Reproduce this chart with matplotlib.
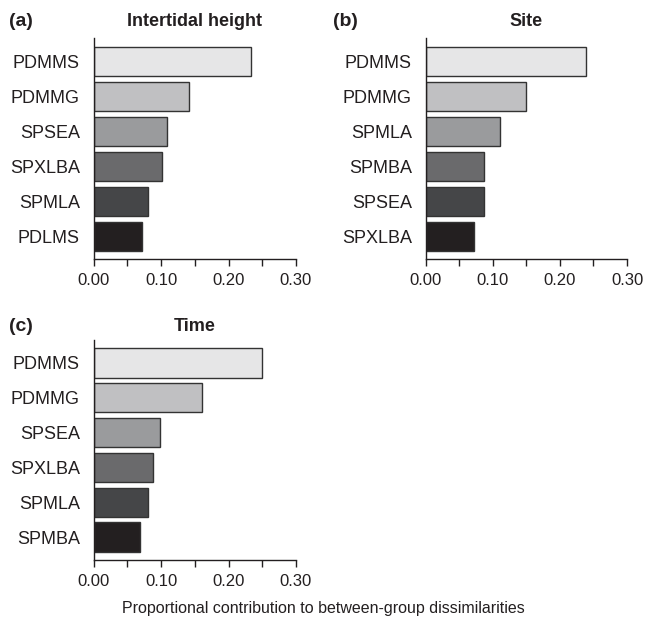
import matplotlib
matplotlib.use('Agg')
import matplotlib.pyplot as plt

# values (top bar first)
tidal_names = ['PDMMS', 'PDMMG', 'SPSEA', 'SPXLBA', 'SPMLA', 'PDLMS']
tidal_vals = [0.233, 0.142, 0.108, 0.101, 0.080, 0.072]

site_names = ['PDMMS', 'PDMMG', 'SPMLA', 'SPMBA', 'SPSEA', 'SPXLBA']
site_vals = [0.239, 0.149, 0.111, 0.087, 0.087, 0.072]

time_names = ['PDMMS', 'PDMMG', 'SPSEA', 'SPXLBA', 'SPMLA', 'SPMBA']
time_vals = [0.249, 0.160, 0.099, 0.088, 0.080, 0.069]

x_ticks = [0.00, 0.05, 0.10, 0.15, 0.20, 0.25, 0.30]
x_labels = ['0.00', '', '0.10', '', '0.20', '', '0.30']

grays = ['#e6e6e7', '#c0c0c2', '#9a9b9d', '#6a6a6c', '#454648', '#231f20']
ink = '#231f20'

plt.rcParams['font.family'] = ['Liberation Sans', 'DejaVu Sans']
plt.rcParams['text.color'] = ink

W, H = 648, 619
fig = plt.figure(figsize=(W / 100, H / 100), dpi=100)


def bar_panel(rect, names, vals, title, tag, title_pad):
    ax = fig.add_axes(rect)
    pos = list(range(len(names)))[::-1]
    ax.barh(pos, vals, height=0.84, color=grays, edgecolor='#333333', linewidth=1.0)
    ax.set_yticks(pos)
    ax.set_yticklabels(names, fontsize=13)
    ax.set_ylim(-0.657, len(names) - 1 + 0.657)
    ax.set_xlim(0, 0.30)
    ax.set_xticks(x_ticks)
    ax.set_xticklabels(x_labels, fontsize=12)
    ax.tick_params(axis='y', length=0, pad=10, colors=ink)
    ax.tick_params(axis='x', length=5.3, width=1.0, pad=4.5, colors=ink)
    for s in ['top', 'right']:
        ax.spines[s].set_visible(False)
    for s in ['left', 'bottom']:
        ax.spines[s].set_color(ink)
        ax.spines[s].set_linewidth(1.0)
    ax.set_title(title, fontsize=13, fontweight='bold', pad=title_pad)
    # panel letter sits on the title's baseline
    fig.text(tag[1] / W, 1 - tag[2] / H, tag[0], fontsize=14,
             fontweight='bold', va='baseline', ha='left')
    return ax


bar_panel([93.7 / W, 1 - 259.3 / H, 202.3 / W, 221 / H],
          tidal_names, tidal_vals, 'Intertidal height', ('(a)', 9, 26), 8.6)
bar_panel([425.7 / W, 1 - 259.3 / H, 201.3 / W, 221 / H],
          site_names, site_vals, 'Site', ('(b)', 333, 26), 8.6)
bar_panel([93.7 / W, 1 - 560 / H, 202.3 / W, 220 / H],
          time_names, time_vals, 'Time', ('(c)', 9, 331), 6.5)

fig.text(323 / W, 1 - 613 / H, 'Proportional contribution to between-group dissimilarities',
         fontsize=11.55, ha='center', va='baseline')

fig.savefig('out.png', dpi=100)
